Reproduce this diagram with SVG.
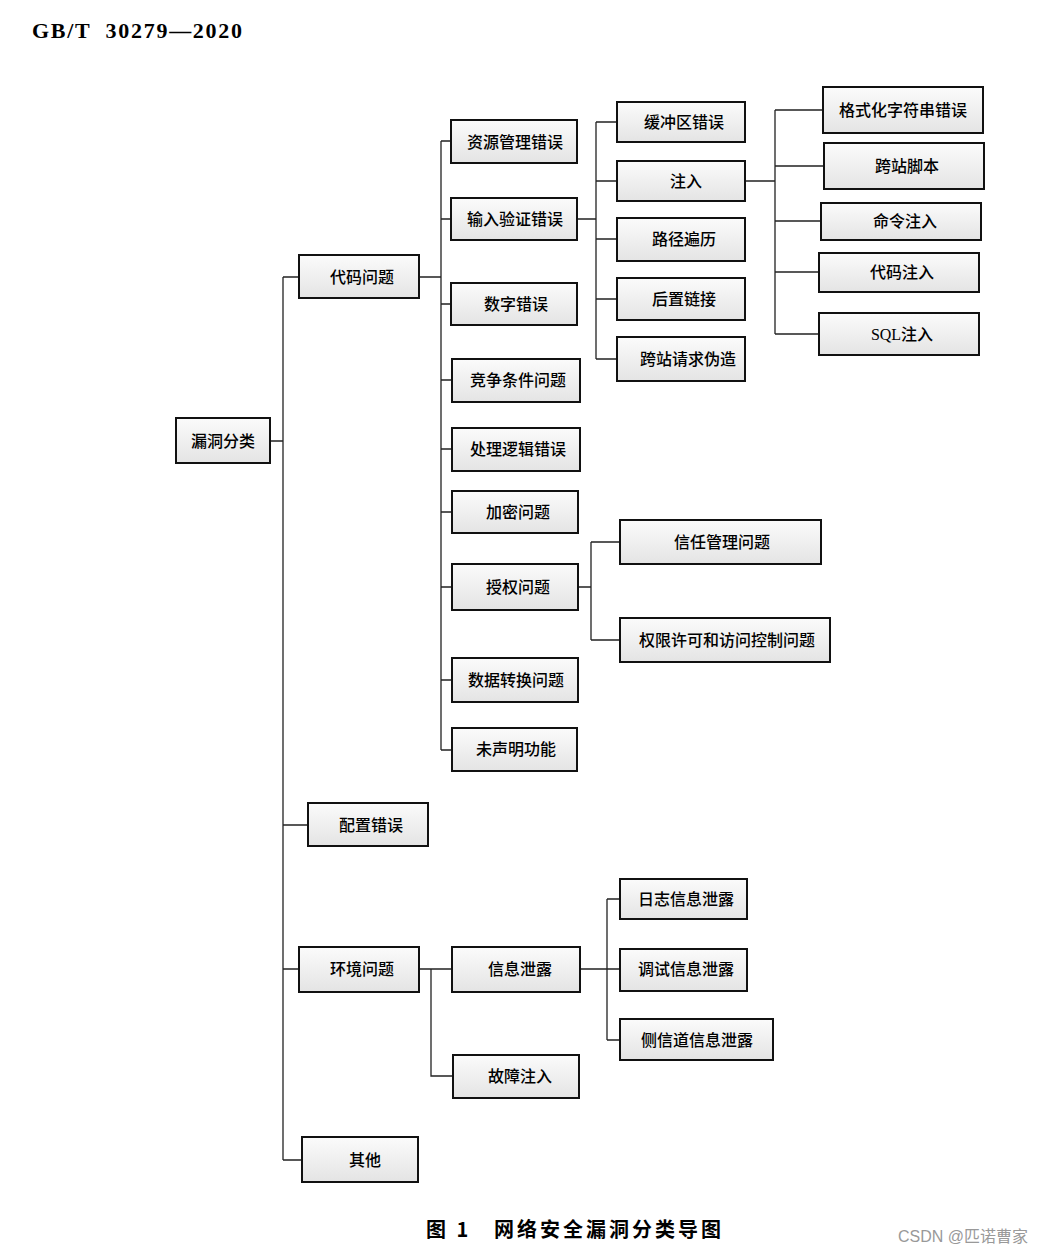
<svg xmlns="http://www.w3.org/2000/svg" width="1064" height="1254" viewBox="0 0 1064 1254">
<style>
.b rect{fill:url(#g);stroke:#111;stroke-width:2}
.b text{font-family:"Liberation Serif","Noto Sans CJK SC",serif;font-size:16px;font-weight:500;text-anchor:middle;dominant-baseline:central;fill:#000}
.c path{fill:none;stroke:#222;stroke-width:1.3}
</style>
<defs><linearGradient id="g" x1="0" y1="0" x2="0" y2="1"><stop offset="0" stop-color="#fbfbfb"/><stop offset="1" stop-color="#e4e4e4"/></linearGradient></defs>
<rect width="1064" height="1254" fill="#fff"/>
<text x="32" y="38" font-family="Liberation Serif,serif" font-weight="bold" font-size="22" textLength="210" xml:space="preserve">GB/T  30279—2020</text>
<g class="c">
<path d="M270 441H283M283 277V1160M283 277H299M283 825H308M283 969H299M283 1160H302"/>
<path d="M419 277H441M441 141V750M441 141H451M441 219H451M441 304H451M441 380H452M441 449H452M441 512H452M441 587H452M441 680H452M441 750H452"/>
<path d="M577 219H596M596 122V359M596 122H617M596 181H617M596 239H617M596 299H617M596 359H617"/>
<path d="M745 181H775M775 110V334M775 110H823M775 166H824M775 221H821M775 272H819M775 334H819"/>
<path d="M578 587H591M591 542V640M591 542H620M591 640H620"/>
<path d="M419 969H452M431 969V1076H453"/>
<path d="M580 969H607M607 899V1040M607 899H620M607 969H620M607 1040H620"/>
</g>
<g id="n1" class="b"><rect x="176" y="418" width="94" height="45"/><text x="223" y="441">漏洞分类</text></g>
<g id="n2" class="b"><rect x="299" y="255" width="120" height="43"/><text x="362" y="277">代码问题</text></g>
<g id="n3" class="b"><rect x="308" y="803" width="120" height="43"/><text x="371" y="825">配置错误</text></g>
<g id="n4" class="b"><rect x="299" y="947" width="120" height="45"/><text x="362" y="969">环境问题</text></g>
<g id="n5" class="b"><rect x="302" y="1137" width="116" height="45"/><text x="365" y="1160">其他</text></g>
<g id="n6" class="b"><rect x="451" y="120" width="126" height="43"/><text x="515" y="142">资源管理错误</text></g>
<g id="n7" class="b"><rect x="451" y="198" width="126" height="42"/><text x="515" y="219">输入验证错误</text></g>
<g id="n8" class="b"><rect x="451" y="283" width="126" height="42"/><text x="516" y="304">数字错误</text></g>
<g id="n9" class="b"><rect x="452" y="359" width="128" height="43"/><text x="518" y="380">竞争条件问题</text></g>
<g id="n10" class="b"><rect x="452" y="428" width="128" height="43"/><text x="518" y="449">处理逻辑错误</text></g>
<g id="n11" class="b"><rect x="452" y="491" width="126" height="42"/><text x="518" y="512">加密问题</text></g>
<g id="n12" class="b"><rect x="452" y="564" width="126" height="46"/><text x="518" y="587">授权问题</text></g>
<g id="n13" class="b"><rect x="452" y="658" width="126" height="44"/><text x="516" y="680">数据转换问题</text></g>
<g id="n14" class="b"><rect x="452" y="728" width="125" height="43"/><text x="516" y="749">未声明功能</text></g>
<g id="n15" class="b"><rect x="617" y="102" width="128" height="40"/><text x="684" y="122">缓冲区错误</text></g>
<g id="n16" class="b"><rect x="617" y="161" width="128" height="40"/><text x="686" y="181">注入</text></g>
<g id="n17" class="b"><rect x="617" y="218" width="128" height="43"/><text x="684" y="239">路径遍历</text></g>
<g id="n18" class="b"><rect x="617" y="278" width="128" height="42"/><text x="684" y="299">后置链接</text></g>
<g id="n19" class="b"><rect x="617" y="337" width="128" height="44"/><text x="688" y="359">跨站请求伪造</text></g>
<g id="n20" class="b"><rect x="823" y="87" width="160" height="46"/><text x="903" y="110">格式化字符串错误</text></g>
<g id="n21" class="b"><rect x="824" y="143" width="160" height="46"/><text x="907" y="166">跨站脚本</text></g>
<g id="n22" class="b"><rect x="821" y="203" width="160" height="37"/><text x="905" y="221">命令注入</text></g>
<g id="n23" class="b"><rect x="819" y="253" width="160" height="39"/><text x="902" y="272">代码注入</text></g>
<g id="n24" class="b"><rect x="819" y="313" width="160" height="42"/><text x="902" y="334">SQL注入</text></g>
<g id="n25" class="b"><rect x="620" y="520" width="201" height="44"/><text x="722" y="542">信任管理问题</text></g>
<g id="n26" class="b"><rect x="620" y="618" width="210" height="44"/><text x="727" y="640">权限许可和访问控制问题</text></g>
<g id="n27" class="b"><rect x="452" y="947" width="128" height="45"/><text x="520" y="969">信息泄露</text></g>
<g id="n28" class="b"><rect x="453" y="1055" width="126" height="43"/><text x="520" y="1076">故障注入</text></g>
<g id="n29" class="b"><rect x="620" y="879" width="127" height="40"/><text x="686" y="899">日志信息泄露</text></g>
<g id="n30" class="b"><rect x="620" y="949" width="127" height="42"/><text x="686" y="969">调试信息泄露</text></g>
<g id="n31" class="b"><rect x="620" y="1019" width="153" height="41"/><text x="697" y="1040">侧信道信息泄露</text></g>
<text x="426" y="1237" font-family="Noto Sans CJK SC,sans-serif" font-weight="bold" font-size="20" letter-spacing="3" xml:space="preserve">图 1   网络安全漏洞分类导图</text>
<text x="898" y="1242" font-family="Liberation Sans,Noto Sans CJK SC,sans-serif" font-size="16" fill="#999">CSDN @匹诺曹家</text>
</svg>
